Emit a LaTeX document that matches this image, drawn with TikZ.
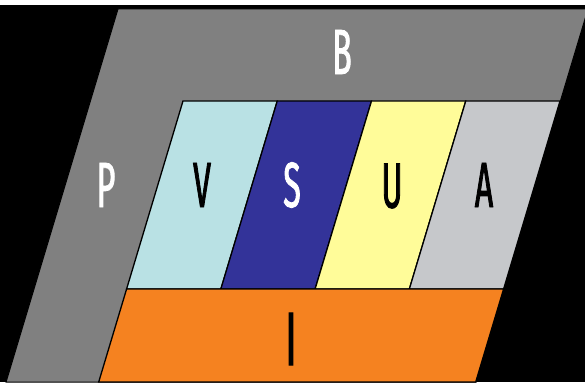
\documentclass[tikz,border=0pt]{standalone}
\usepackage{fontspec}
\newfontfamily\blockfont[FakeStretch=0.5, FakeBold=1.3]{Fira Sans}
\usetikzlibrary{positioning}

\definecolor{framegray}{RGB}{128,128,128}
\definecolor{vcyan}{RGB}{185,225,228}
\definecolor{sblue}{RGB}{51,51,153}
\definecolor{uyellow}{RGB}{255,252,153}
\definecolor{agray}{RGB}{198,200,203}
\definecolor{iorange}{RGB}{245,130,32}

\tikzset{
    block/.style={draw=black, line width=1.3pt, line join=miter},
    letter/.style={font=\blockfont\fontsize{64}{64}\selectfont, inner sep=0pt}
}

\begin{document}
\begin{tikzpicture}[x=1pt, y=-1pt]
    \fill[black] (0,0) rectangle (585,382);
    \fill[white] (0,0) rectangle (585,5);
    \useasboundingbox (0,0) rectangle (585,382);
    \begin{scope}
        \clip (0,0) rectangle (585,382);
        \filldraw[framegray, draw=black, line width=1pt] (118,9) -- ++(470,0) -- ++(-111.9,373) -- ++(-470,0) -- cycle;
    \end{scope}
    \filldraw[block, fill=vcyan] (183,101) -- ++(94.25,0) -- ++(-56.4,188) -- ++(-94.25,0) -- cycle;
    \begin{scope}[xshift=94.25pt]
        \filldraw[block, fill=sblue] (183,101) -- ++(94.25,0) -- ++(-56.4,188) -- ++(-94.25,0) -- cycle;
    \end{scope}
    \begin{scope}[xshift=188.5pt]
        \filldraw[block, fill=uyellow] (183,101) -- ++(94.25,0) -- ++(-56.4,188) -- ++(-94.25,0) -- cycle;
    \end{scope}
    \begin{scope}[xshift=282.75pt]
        \filldraw[block, fill=agray] (183,101) -- ++(94.25,0) -- ++(-56.4,188) -- ++(-94.25,0) -- cycle;
    \end{scope}
    \filldraw[block, fill=iorange] (126.6,289) -- ++(377,0) -- ++(-27.9,93) -- ++(-377,0) -- cycle;

    \node[letter, white] (b) at (342,52) {B};
    \node[letter, white] (p) at (106,185) {P};
    \node[letter] (v) at (202,185) {V};
    \node[letter, white] (s) at (292,185) {S};
    \node[letter] (u) at (392,186) {U};
    \node[letter] (a) at (484,185) {A};
    \node[letter, font=\blockfont\fontsize{76}{76}\selectfont] (i) at (291,339) {I};
\end{tikzpicture}
\end{document}
